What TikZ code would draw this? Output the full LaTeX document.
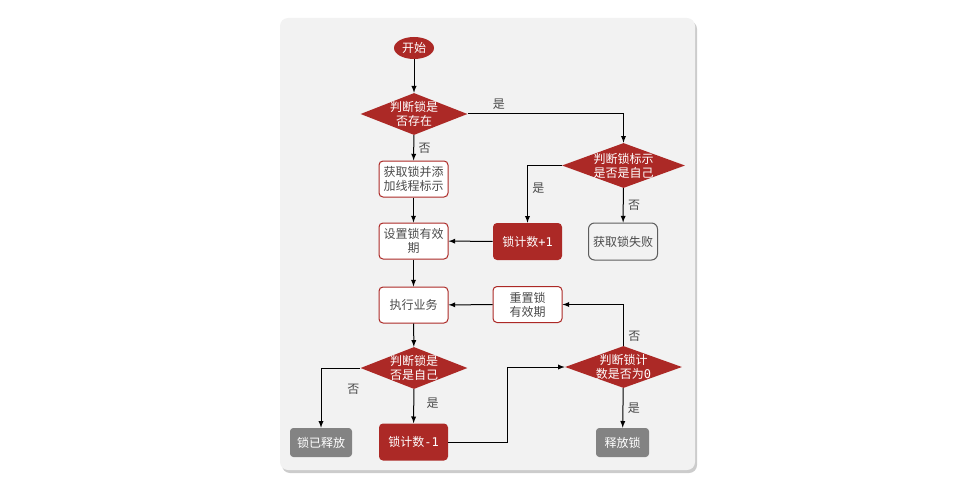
\documentclass[tikz,border=0pt]{standalone}
\usepackage{fontspec}
\newfontfamily\cjk{Noto Sans CJK SC}
\newfontfamily\monodigit{DejaVu Sans Mono}
\usepackage{tikz}
\usetikzlibrary{shapes.geometric}
\tikzset{>=latex}
\definecolor{lockred}{RGB}{172,41,38}
\definecolor{panelgray}{RGB}{242,242,242}
\definecolor{boxgray}{RGB}{131,131,131}
\definecolor{textgray}{RGB}{75,75,75}
\tikzset{
    every node/.style={font=\cjk\fontsize{9}{10.5}\selectfont, text=textgray},
    startnode/.style={ellipse, fill=lockred, text=white, minimum width=30pt, minimum height=16.5pt, inner sep=0pt},
    decision/.style={diamond, fill=lockred, text=white, align=center, inner sep=-12pt},
    whitebox/.style={rectangle, rounded corners=3pt, draw=lockred, fill=white, line width=.75pt, minimum width=51.75pt, minimum height=27pt, align=center, inner sep=1pt},
    redbox/.style={rectangle, rounded corners=3pt, fill=lockred, text=white, minimum width=51.75pt, minimum height=27.75pt, align=center, inner sep=1pt},
    greybox/.style={rectangle, rounded corners=2.5pt, fill=boxgray, text=white, minimum height=21.75pt, inner sep=1pt},
    failbox/.style={rectangle, rounded corners=4.5pt, draw=textgray!90, fill=panelgray, line width=.75pt, minimum width=51.75pt, minimum height=27.75pt, inner sep=1pt},
    flow/.style={->, line width=.75pt},
    answer/.style={text=textgray}
}
\begin{document}
\begin{tikzpicture}[x=0.75pt, y=-0.75pt]
    \useasboundingbox(0, 0)rectangle(957, 478);
    % panel
    \fill[black!20, rounded corners=6pt](282, 21)rectangle(697, 473);
    \fill[panelgray, rounded corners=6pt](280, 18)rectangle(695, 470);
    % left column
    \node[startnode] (start) at(414, 48){开始};
    \node[decision, minimum width=80.25pt, minimum height=31.5pt] (exists) at(414, 114){判断锁是\\否存在};
    \node[whitebox] (acquire) at(413.5, 179){获取锁并添\\加线程标示};
    \node[whitebox] (setttl) at(413.5, 241){设置锁有效\\期};
    \node[whitebox] (work) at(413.5, 305){执行业务};
    \node[decision, minimum width=80.25pt, minimum height=31.5pt] (isself) at(414, 368){判断锁是\\否是自己};
    \node[greybox, minimum width=46.5pt] (released) at(321, 442.5){锁已释放};
    \node[redbox] (decr) at(413.5, 442){锁计数{\monodigit -1}};
    % right column
    \node[decision, minimum width=92.25pt, minimum height=33.75pt] (owner) at(623.5, 165.5){判断锁标示\\是否是自己};
    \node[redbox] (incr) at(527.5, 241.5){锁计数{\monodigit +1}};
    \node[failbox] (fail) at(623, 241.5){获取锁失败};
    \node[whitebox] (resetttl) at(527.5, 304.5){重置锁\\有效期};
    \node[decision, minimum width=87.75pt, minimum height=31.5pt] (iszero) at(623.5, 367){判断锁计\\数是否为{\monodigit 0}};
    \node[greybox, minimum width=39.75pt] (unlock) at(622.5, 442.5){释放锁};
    % connectors
    \draw[flow](start)--(exists);
    \draw[flow](exists.east)-|(owner.north)node[answer, pos=.1, above]{是};
    \draw[flow](exists)--(acquire)node[answer, midway, right]{否};
    \draw[flow](acquire)--(setttl);
    \draw[flow](owner.west)-|(incr.north)node[answer, pos=.7, right]{是};
    \draw[flow](owner)--(fail)node[answer, midway, right]{否};
    \draw[flow](incr)--(setttl);
    \draw[flow](setttl)--(work);
    \draw[flow](resetttl)--(work);
    \draw[flow](work)--(isself);
    \draw[flow](isself.west)-|(released.north)node[answer, pos=.68, right=16pt]{否};
    \draw[flow](isself)--(decr)node[answer, pos=.4, right=6pt]{是};
    \draw[flow](decr.east)--++(59, 0)|-(iszero.west);
    \draw[flow](iszero.north)|-(resetttl.east)node[answer, pos=.12, right]{否};
    \draw[flow](iszero)--(unlock)node[answer, midway, right]{是};
\end{tikzpicture}
\end{document}
